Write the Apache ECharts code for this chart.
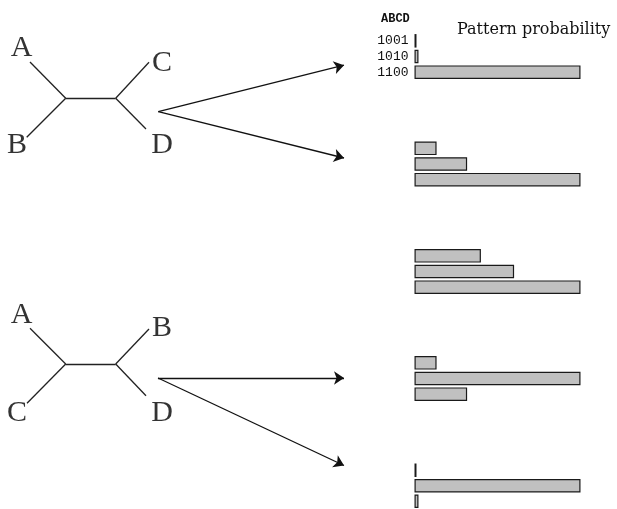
<!DOCTYPE html>
<html>
<head>
<meta charset="utf-8">
<script src="https://cdn.jsdelivr.net/npm/echarts@6/dist/echarts.min.js"></script>
<style>html,body{margin:0;padding:0;background:#fff}#c{width:617px;height:509px}</style>
</head>
<body>
<div id="c"></div>
<script>
// ---- data ----
const patterns = ['1001', '1010', '1100'];
const headerLabel = 'ABCD';
const axisTitle = 'Pattern probability';
const prob1 = [0.012, 0.024, 1.0];
const prob2 = [0.133, 0.317, 1.0];
const prob3 = [0.40, 0.60, 1.0];
const prob4 = [0.133, 1.0, 0.317];
const prob5 = [0.012, 1.0, 0.024];
// tree diagrams (diagram coordinates in page units)
const tree1Edges = [
  [[30, 62], [65.7, 98.3]],
  [[65.7, 98.3], [26.7, 137.3]],
  [[65.7, 98.3], [115.7, 98.3]],
  [[115.7, 98.3], [149, 62.3]],
  [[115.7, 98.3], [146, 129]]
];
const tree1Leaves = [['A', 21.7, 48], ['B', 17, 145], ['C', 162, 63], ['D', 162, 145]];
const tree2Edges = [
  [[30, 328.3], [65.7, 364]],
  [[65.7, 364], [27, 403.3]],
  [[65.7, 364], [115.7, 364]],
  [[115.7, 364], [149, 329]],
  [[115.7, 364], [146, 395.7]]
];
const tree2Leaves = [['A', 21.7, 315], ['B', 162, 328], ['C', 17, 413], ['D', 162, 413]];
const arrows = [
  [[158.3, 111.7], [344, 65.2]],
  [[158.3, 111.7], [344, 158]],
  [[158, 378], [344, 378]],
  [[158, 378], [344, 465.5]]
];

// ---- chart ----
const chart = echarts.init(document.getElementById('c'), null, {renderer: 'canvas'});
const groups = [prob1, prob2, prob3, prob4, prob5];
const groupTops = [33, 140.5, 248, 355, 462.5];

const grid = [{left: 0, top: 0, width: 617, height: 509}];
const xAxis = [{gridIndex: 0, type: 'value', min: 0, max: 617, show: false}];
const yAxis = [{gridIndex: 0, type: 'value', min: 0, max: 509, inverse: true, show: false}];
const series = [];

groups.forEach((vals, i) => {
  const gi = i + 1;
  grid.push({left: 414.5, top: groupTops[i], width: 166, height: 47});
  xAxis.push({gridIndex: gi, type: 'value', min: 0, max: 1, show: false});
  yAxis.push({
    gridIndex: gi, type: 'category', data: patterns, inverse: true,
    axisLine: {show: false}, axisTick: {show: false}, splitLine: {show: false},
    axisLabel: {show: i === 0, interval: 0, margin: 6, fontFamily: 'Liberation Mono', fontSize: 13, color: '#111'}
  });
  series.push({
    type: 'bar', xAxisIndex: gi, yAxisIndex: gi, data: vals, barWidth: 13.5,
    itemStyle: {color: '#c0c0c0', borderColor: '#1a1a1a', borderWidth: 1.2},
    silent: true, animation: false
  });
});

const edgeData = tree1Edges.concat(tree2Edges).map(c => ({coords: c}));
series.push({
  type: 'lines', coordinateSystem: 'cartesian2d', xAxisIndex: 0, yAxisIndex: 0,
  data: edgeData, symbol: ['none', 'none'],
  lineStyle: {color: '#222', width: 1.3, opacity: 1}, animation: false, silent: true
});
series.push({
  type: 'lines', coordinateSystem: 'cartesian2d', xAxisIndex: 0, yAxisIndex: 0,
  data: arrows.map(c => ({coords: c})), symbol: ['none', 'arrow'], symbolSize: 10,
  lineStyle: {color: '#111', width: 1.3, opacity: 1}, animation: false, silent: true
});
const leafData = tree1Leaves.concat(tree2Leaves).map(l => ({name: l[0], value: [l[1], l[2]]}));
series.push({
  type: 'scatter', xAxisIndex: 0, yAxisIndex: 0, data: leafData, symbolSize: 1,
  itemStyle: {color: 'rgba(0,0,0,0)'},
  label: {show: true, position: 'inside', formatter: p => p.name,
    fontFamily: 'Liberation Serif', fontSize: 30, color: '#000'},
  animation: false, silent: true
});

chart.setOption({
  animation: false,
  backgroundColor: '#fff',
  title: [
    {text: headerLabel, left: 376, top: 8,
     textStyle: {fontFamily: 'Liberation Mono', fontWeight: 'bold', fontSize: 12, color: '#111'}},
    {text: axisTitle, left: 452, top: 17,
     textStyle: {fontFamily: 'DejaVu Serif', fontWeight: 'normal', fontSize: 16, color: '#111'}}
  ],
  grid, xAxis, yAxis, series
});
</script>
</body>
</html>
